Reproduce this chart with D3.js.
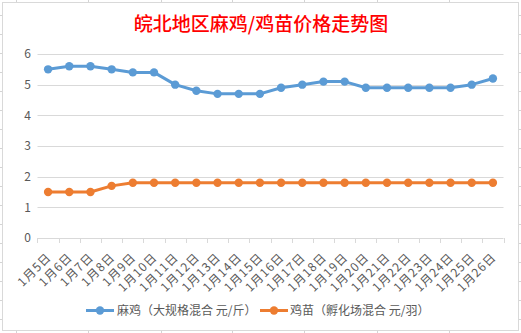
<!DOCTYPE html>
<html>
<head>
<meta charset="utf-8">
<script src="https://cdn.jsdelivr.net/npm/d3@7"></script>
<style>
  html, body { margin: 0; padding: 0; background: #fff; }
  svg { display: block; }
  text { font-family: "Microsoft YaHei", "Noto Sans CJK SC", "DejaVu Sans", sans-serif; }
</style>
</head>
<body>
<svg id="chart" width="521" height="333"></svg>
<script>
const title = "皖北地区麻鸡/鸡苗价格走势图";
const categories = ["1月5日","1月6日","1月7日","1月8日","1月9日","1月10日","1月11日","1月12日","1月13日","1月14日","1月15日","1月16日","1月17日","1月18日","1月19日","1月20日","1月21日","1月22日","1月23日","1月24日","1月25日","1月26日"];
const seriesNames = ["麻鸡（大规格混合 元/斤）", "鸡苗（孵化场混合 元/羽）"];
const maji = [5.5,5.6,5.6,5.5,5.4,5.4,5.0,4.8,4.7,4.7,4.7,4.9,5.0,5.1,5.1,4.9,4.9,4.9,4.9,4.9,5.0,5.2];
const jimiao = [1.5,1.5,1.5,1.7,1.8,1.8,1.8,1.8,1.8,1.8,1.8,1.8,1.8,1.8,1.8,1.8,1.8,1.8,1.8,1.8,1.8,1.8];
const yTicks = [0,1,2,3,4,5,6];
const colors = ["#5b9bd5", "#ed7d31"];

(function () {
const svg = d3.select("#chart");
const W = 521, H = 333;

// spreadsheet cell grid fragments outside the chart frame
const colLines = [16, 88, 161, 232, 304, 377, 449];
const rowLines = d3.range(15, 333, 19);
const bg = svg.append("g").attr("stroke", "#d4d4d4").attr("stroke-width", 1);
colLines.forEach(x => {
  bg.append("line").attr("x1", x + 0.5).attr("x2", x + 0.5).attr("y1", 0).attr("y2", 2.5);
  bg.append("line").attr("x1", x + 0.5).attr("x2", x + 0.5).attr("y1", 330.5).attr("y2", H);
});
rowLines.forEach(y => {
  bg.append("line").attr("x1", 0).attr("x2", 2.5).attr("y1", y + 0.5).attr("y2", y + 0.5);
  bg.append("line").attr("x1", 518.5).attr("x2", W).attr("y1", y + 0.5).attr("y2", y + 0.5);
});

// chart frame
svg.append("rect").attr("x", 2.5).attr("y", 2.5).attr("width", 516).attr("height", 328)
  .attr("fill", "#fff").attr("stroke", "#d9d9d9").attr("stroke-width", 1);

// title
svg.append("text").attr("x", 261).attr("y", 31).attr("text-anchor", "middle")
  .attr("font-size", 19).attr("font-weight", 500).attr("fill", "#ff0000").text(title);

const pL = 37.5, pR = 503.5, pT = 54, pB = 238;
const x = d3.scaleBand().domain(categories).range([pL, pR]);
const y = d3.scaleLinear().domain([0, 6]).range([pB, pT]);

// gridlines
const grid = svg.append("g");
grid.selectAll("line").data(yTicks.filter(d => d > 0)).join("line")
  .attr("x1", pL).attr("x2", pR)
  .attr("y1", d => Math.round(y(d)) + 0.5).attr("y2", d => Math.round(y(d)) + 0.5)
  .attr("stroke", "#d9d9d9").attr("stroke-width", 1);

// y axis labels
const yAxis = d3.axisLeft(y).tickValues(yTicks).tickSize(0).tickPadding(0).tickFormat(d3.format("d"));
const yg = svg.append("g").attr("transform", `translate(31,0)`).call(yAxis);
yg.select(".domain").remove();
yg.selectAll("text").attr("font-size", 12).attr("fill", "#595959")
  .attr("font-family", "\"Microsoft YaHei\", \"Noto Sans CJK SC\", sans-serif");

// x axis line + ticks at category boundaries
const ax = svg.append("g").attr("stroke", "#d9d9d9").attr("stroke-width", 1);
ax.append("line").attr("x1", pL).attr("x2", pR)
  .attr("y1", Math.round(pB) + 0.5).attr("y2", Math.round(pB) + 0.5);
const bounds = categories.map(c => x(c)).concat([x(categories[categories.length - 1]) + x.bandwidth()]);
ax.selectAll("line.tk").data(bounds).join("line").attr("class", "tk")
  .attr("x1", d => Math.round(d) + 0.5).attr("x2", d => Math.round(d) + 0.5)
  .attr("y1", pB).attr("y2", pB + 5);

// x labels rotated
svg.append("g").selectAll("text").data(categories).join("text")
  .attr("transform", d => `translate(${x(d) + x.bandwidth() / 2 + 1},${pB + 17}) rotate(-45)`)
  .attr("text-anchor", "end").attr("dy", "0.35em")
  .attr("font-size", 12).attr("letter-spacing", 1).attr("fill", "#595959").text(d => d);

// lines & markers
const cx = d => x(d) + x.bandwidth() / 2;
[maji, jimiao].forEach((vals, i) => {
  const data = categories.map((c, j) => ({ c, v: vals[j] }));
  svg.append("path").datum(data)
    .attr("fill", "none").attr("stroke", colors[i]).attr("stroke-width", 3)
    .attr("stroke-linejoin", "round").attr("stroke-linecap", "round")
    .attr("d", d3.line().x(d => cx(d.c)).y(d => y(d.v)));
  svg.append("g").selectAll("circle").data(data).join("circle")
    .attr("cx", d => cx(d.c)).attr("cy", d => y(d.v)).attr("r", 4.2)
    .attr("fill", colors[i]);
});

// legend
const legendY = 310.5;
const legendItems = [{ x0: 86, tx: 117 }, { x0: 260, tx: 290 }];
legendItems.forEach((it, i) => {
  const g = svg.append("g");
  g.append("line").attr("x1", it.x0).attr("x2", it.x0 + 28).attr("y1", legendY).attr("y2", legendY)
    .attr("stroke", colors[i]).attr("stroke-width", 3);
  g.append("circle").attr("cx", it.x0 + 14).attr("cy", legendY).attr("r", 4.2).attr("fill", colors[i]);
  g.append("text").attr("x", it.tx).attr("y", legendY).attr("dy", "0.35em")
    .attr("font-size", 12).attr("fill", "#595959").text(seriesNames[i]);
});
})();
</script>
</body>
</html>
